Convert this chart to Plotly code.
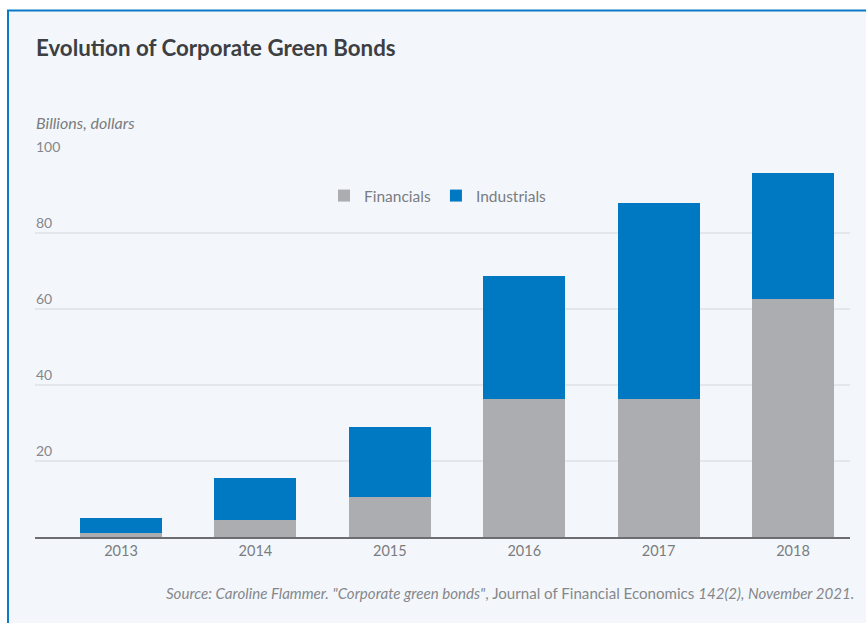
import plotly.graph_objects as go

years = ["2013", "2014", "2015", "2016", "2017", "2018"]
financials = [1.0, 4.5, 10.5, 36.3, 36.3, 62.6]
industrials = [4.0, 11.0, 18.4, 32.4, 51.6, 33.2]
ytick_vals = [20, 40, 60, 80, 100]
ytick_text = ["20", "40", "60", "80", "100"]

FONT = "Lato, 'Source Sans Pro', sans-serif"
GRAY = "#acadb0"
BLUE = "#0079c2"
BG = "#f3f7fb"
W, H = 866, 623
L, R, T, B = 35, 16, 157, 86
PW, PH = W - L - R, H - T - B


def px_x(px):
    return (px - L) / PW


def px_y(py):
    return (H - B - py) / PH


fig = go.Figure()
fig.add_bar(x=years, y=financials, name="Financials", marker_color=GRAY,
            marker_line_width=0)
fig.add_bar(x=years, y=industrials, name="Industrials", marker_color=BLUE,
            marker_line_width=0)

annotations = [
    dict(text="<b>Evolution of Corporate Green Bonds</b>", xref="paper", yref="paper",
         x=px_x(34), y=px_y(47), xanchor="left", yanchor="middle", showarrow=False,
         font=dict(family=FONT, size=22.3, color="#3d3f43")),
    dict(text="<i>Billions, dollars</i>", xref="paper", yref="paper",
         x=px_x(34), y=px_y(123), xanchor="left", yanchor="middle", showarrow=False,
         font=dict(family=FONT, size=16, color="#7a7c80")),
    dict(text="<i>Source: Caroline Flammer. \"Corporate green bonds\"</i>, Journal of Financial Economics <i>142(2), November 2021.</i>",
         xref="paper", yref="paper", x=px_x(856), y=px_y(593), xanchor="right",
         yanchor="middle", showarrow=False,
         font=dict(family=FONT, size=15.1, color="#85878b")),
]
for v, t in zip(ytick_vals, ytick_text):
    annotations.append(dict(text=t, xref="paper", yref="y", x=0, y=v,
                            xanchor="left", yanchor="bottom", yshift=1,
                            showarrow=False, borderpad=0,
                            font=dict(family=FONT, size=14, color="#85878b")))

shapes = [
    dict(type="rect", xref="paper", yref="paper", layer="below",
         x0=px_x(7), x1=px_x(W + 10), y0=px_y(H + 10), y1=px_y(10),
         fillcolor=BG, line_width=0),
    dict(type="line", xref="paper", yref="paper", layer="below",
         x0=px_x(8), x1=px_x(8), y0=px_y(H + 10), y1=px_y(10),
         line=dict(color="#0b7bc7", width=2)),
    dict(type="line", xref="paper", yref="paper", layer="below",
         x0=px_x(7), x1=px_x(W + 10), y0=px_y(10.5), y1=px_y(10.5),
         line=dict(color="#0b7bc7", width=2)),
]

fig.update_layout(
    width=W, height=H,
    margin=dict(l=L, r=R, t=T, b=B, pad=0),
    paper_bgcolor="white",
    plot_bgcolor="rgba(0,0,0,0)",
    barmode="stack",
    bargap=0.39,
    font=dict(family=FONT, color="#7a7c80"),
    showlegend=True,
    legend=dict(orientation="h", x=px_x(438), xanchor="center", y=px_y(196),
                yanchor="middle", traceorder="normal",
                font=dict(family=FONT, size=15.5, color="#7a7c80"),
                bgcolor="rgba(0,0,0,0)", itemclick=False),
    xaxis=dict(type="category", range=[-0.64, 5.424], showgrid=False,
               showline=True, linecolor="#6b6d70", linewidth=1.5,
               ticks="", tickfont=dict(family=FONT, size=14.5, color="#7a7c80"),
               fixedrange=True),
    yaxis=dict(range=[0, 100], tickvals=ytick_vals, showticklabels=False,
               showgrid=True, gridcolor="#e3e6eb", gridwidth=1.5,
               zeroline=False, showline=False, fixedrange=True),
    annotations=annotations,
    shapes=shapes,
)

fig.write_html("out.html", config={"displayModeBar": False},
               post_script="document.body.style.margin='0';document.body.style.overflow='hidden';")
